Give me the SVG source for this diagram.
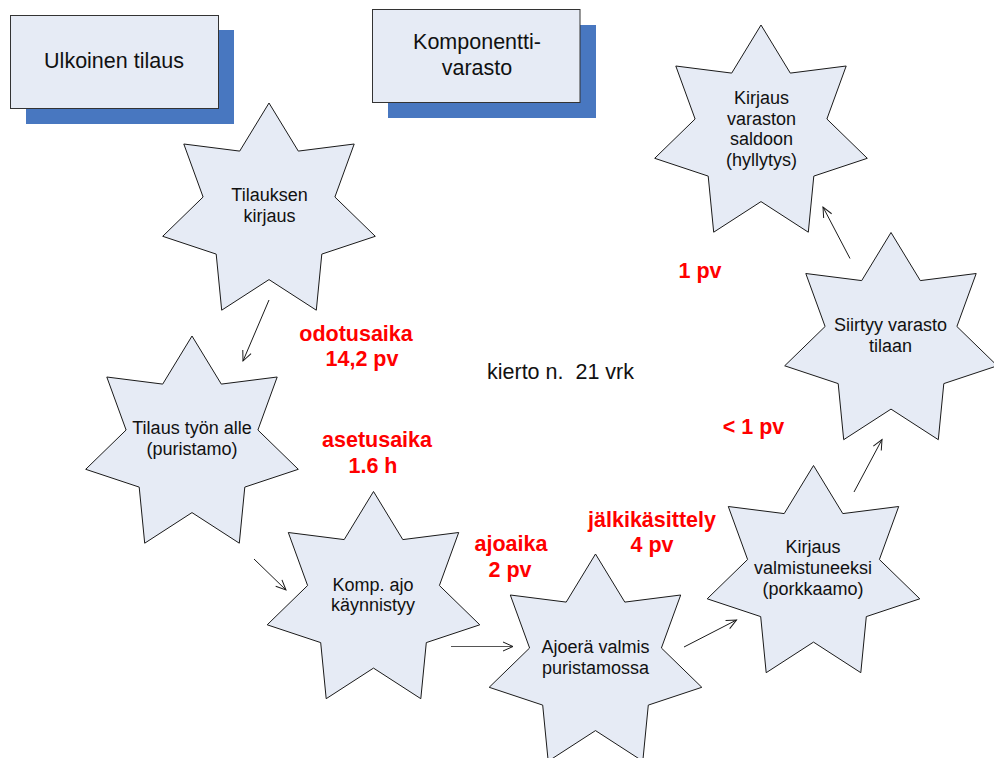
<svg xmlns="http://www.w3.org/2000/svg" width="994" height="758" viewBox="0 0 994 758">
  <style>
    .box { fill: #e6ebf5; stroke: #333333; stroke-width: 1; }
    .shadow { fill: #4877c0; }
    .star { fill: #e6ebf5; stroke: #1a1a1a; stroke-width: 1; stroke-linejoin: miter; }
    .boxtxt { font-family: "Liberation Sans", Arial, sans-serif; font-size: 21.5px; fill: #111111; text-anchor: middle; }
    .startxt { font-family: "Liberation Sans", Arial, sans-serif; font-size: 18px; fill: #111111; text-anchor: middle; }
    .time { font-family: "Liberation Sans", Arial, sans-serif; font-size: 21.5px; font-weight: bold; fill: #ff0000; text-anchor: middle; }
    .note { font-family: "Liberation Sans", Arial, sans-serif; font-size: 21.5px; fill: #111111; }
    .conn { stroke: #1a1a1a; stroke-width: 1; fill: none; marker-end: url(#vhead); }
  </style>
  <defs>
    <!-- seven-pointed star centred on the origin -->
    <path id="star7" d="M0,-109 L29.3,-60.9 L85.2,-68 L65.9,-15 L106.3,24.3 L52.8,42.1 L47.3,98.2 L0,67.6 L-47.3,98.2 L-52.8,42.1 L-106.3,24.3 L-65.9,-15 L-85.2,-68 L-29.3,-60.9 Z"/>
    <marker id="vhead" markerUnits="userSpaceOnUse" markerWidth="14" markerHeight="12" viewBox="-11 -6 12 12" refX="0" refY="0" orient="auto">
      <path d="M-10,-4.5 L0,0 L-10,4.5" fill="none" stroke="#1a1a1a" stroke-width="1"/>
    </marker>
  </defs>

  <!-- source / store boxes -->
  <g id="ulkoinen-tilaus">
    <rect class="shadow" x="26" y="30" width="208" height="94"/>
    <rect class="box" x="10.5" y="15.5" width="208" height="93"/>
    <text class="boxtxt" x="114" y="67.5">Ulkoinen tilaus</text>
  </g>
  <g id="komponenttivarasto">
    <rect class="shadow" x="388" y="25" width="208" height="93"/>
    <rect class="box" x="372.5" y="9.5" width="207.5" height="93"/>
    <text class="boxtxt" x="477" y="49">Komponentti-</text>
    <text class="boxtxt" x="477" y="75">varasto</text>
  </g>

  <!-- process steps -->
  <g id="tilauksen-kirjaus">
    <use href="#star7" class="star" transform="translate(269,212)"/>
    <text class="startxt" x="269.5" y="201">Tilauksen</text>
    <text class="startxt" x="269.5" y="222">kirjaus</text>
  </g>
  <g id="tilaus-tyon-alle">
    <use href="#star7" class="star" transform="translate(192,445)"/>
    <text class="startxt" x="192" y="433.5">Tilaus työn alle</text>
    <text class="startxt" x="192" y="454.5">(puristamo)</text>
  </g>
  <g id="komp-ajo">
    <use href="#star7" class="star" transform="translate(373.5,600.5)"/>
    <text class="startxt" x="373" y="590.5">Komp. ajo</text>
    <text class="startxt" x="373" y="611">käynnistyy</text>
  </g>
  <g id="ajoera-valmis">
    <use href="#star7" class="star" transform="translate(595.5,663)"/>
    <text class="startxt" x="595.5" y="652.5">Ajoerä valmis</text>
    <text class="startxt" x="595.5" y="673.5">puristamossa</text>
  </g>
  <g id="kirjaus-valmistuneeksi">
    <use href="#star7" class="star" transform="translate(813.5,574.5)"/>
    <text class="startxt" x="813" y="553">Kirjaus</text>
    <text class="startxt" x="813" y="574">valmistuneeksi</text>
    <text class="startxt" x="813" y="595">(porkkaamo)</text>
  </g>
  <g id="siirtyy-varastotilaan">
    <use href="#star7" class="star" transform="translate(891,341.5)"/>
    <text class="startxt" x="890.5" y="331">Siirtyy varasto</text>
    <text class="startxt" x="890.5" y="352">tilaan</text>
  </g>
  <g id="kirjaus-saldoon">
    <use href="#star7" class="star" transform="translate(761,134)"/>
    <text class="startxt" x="761.5" y="104">Kirjaus</text>
    <text class="startxt" x="761.5" y="124.5">varaston</text>
    <text class="startxt" x="761.5" y="145">saldoon</text>
    <text class="startxt" x="761.5" y="165.5">(hyllytys)</text>
  </g>

  <!-- flow connectors -->
  <g id="connectors">
    <line class="conn" x1="269" y1="300" x2="243" y2="361"/>
    <line class="conn" x1="254" y1="559" x2="286" y2="590"/>
    <line class="conn" x1="451" y1="646.5" x2="513" y2="646.5" style="stroke:#555555"/>
    <line class="conn" x1="684" y1="647" x2="736.5" y2="620"/>
    <line class="conn" x1="854" y1="492" x2="882" y2="439.5"/>
    <line class="conn" x1="850" y1="258.5" x2="823" y2="207"/>
  </g>

  <!-- lead times -->
  <g id="lead-times">
    <text class="time" x="356" y="340.5">odotusaika</text>
    <text class="time" x="362" y="366">14,2 pv</text>
    <text class="time" x="377" y="446.5">asetusaika</text>
    <text class="time" x="373" y="472.5">1.6 h</text>
    <text class="time" x="511" y="551">ajoaika</text>
    <text class="time" x="510" y="577">2 pv</text>
    <text class="time" x="652" y="527">jälkikäsittely</text>
    <text class="time" x="652" y="552">4 pv</text>
    <text class="time" x="700" y="277.5">1 pv</text>
    <text class="time" x="753.5" y="434">&lt; 1 pv</text>
  </g>
  <text class="note" x="487" y="378.5" xml:space="preserve">kierto n.  21 vrk</text>
</svg>
